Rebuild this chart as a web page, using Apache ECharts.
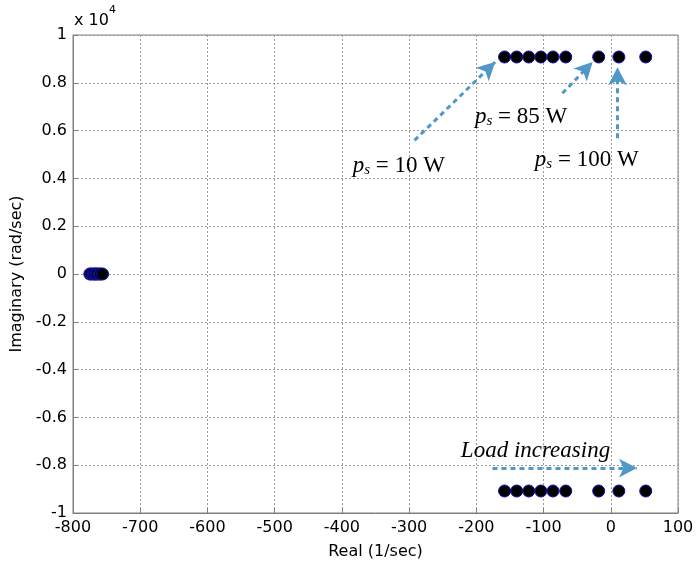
<!DOCTYPE html>
<html>
<head>
<meta charset="utf-8">
<script src="https://cdn.jsdelivr.net/npm/echarts@6/dist/echarts.min.js"></script>
<style>html,body{margin:0;padding:0;background:#fff}#c{width:699px;height:565px}</style>
</head>
<body>
<div id="c"></div>
<script>
// Data (real part in 1/sec, imaginary part in rad/sec)
const clusterReal = [-775, -773, -770, -768, -766, -764, -761, -759, -756];
const clusterImag = [0, 0, 0, 0, 0, 0, 0, 0, 0];
const upperReal = [-158, -140, -122, -104, -86, -67, -18, 12, 52];
const upperImag = [9080, 9080, 9080, 9080, 9080, 9080, 9080, 9080, 9080];
const lowerReal = [-158, -140, -122, -104, -86, -67, -18, 12, 52];
const lowerImag = [-9080, -9080, -9080, -9080, -9080, -9080, -9080, -9080, -9080];
const xTicks = [-800, -700, -600, -500, -400, -300, -200, -100, 0, 100];
const yTicks = [-10000, -8000, -6000, -4000, -2000, 0, 2000, 4000, 6000, 8000, 10000];
// annotation arrows [x1, y1, x2, y2] in data units
const arrows = [
  [-292, 5590, -172, 8870],
  [-72, 7560, -27, 8870],
  [10, 5680, 10, 8650],
  [-176, -8120, 39, -8120]
];
// annotation labels
const labelTexts = ['10 W', '85 W', '100 W'];
const labelPos = [[-384, 4590], [-202, 6640], [-113, 4840]];
const loadText = 'Load increasing';
const loadPos = [-223, -7400];

const zip = (a, b) => a.map((v, i) => [v, b[i]]);
const allPts = zip(clusterReal, clusterImag).concat(zip(upperReal, upperImag), zip(lowerReal, lowerImag));

const arrowColor = '#4f98c8';
const serif = '"Liberation Serif", "Times New Roman", serif';
const sans = '"DejaVu Sans", Arial, sans-serif';

const markPts = labelPos.map((p, i) => ({
  coord: p,
  symbolSize: 0,
  label: {
    show: true,
    position: 'right',
    distance: 0,
    formatter: '{p|p}{s|s}{n| = ' + labelTexts[i] + '}',
    rich: {
      p: {fontFamily: serif, fontStyle: 'italic', fontSize: 23, color: '#000', lineHeight: 26, verticalAlign: 'bottom'},
      s: {fontFamily: serif, fontStyle: 'italic', fontSize: 15, color: '#000', lineHeight: 8, verticalAlign: 'bottom'},
      n: {fontFamily: serif, fontSize: 23, color: '#000', lineHeight: 26, verticalAlign: 'bottom'}
    }
  }
}));
markPts.push({
  coord: loadPos,
  symbolSize: 0,
  label: {
    show: true, position: 'right', distance: 0,
    formatter: loadText,
    fontFamily: serif, fontStyle: 'italic', fontSize: 23, color: '#000'
  }
});

const chart = echarts.init(document.getElementById('c'), null, {renderer: 'canvas'});
chart.setOption({
  animation: false,
  backgroundColor: '#fff',
  grid: {left: 73, right: 21, top: 35, bottom: 52, containLabel: false, outerBoundsMode: 'none',
    show: true, borderColor: '#808080', borderWidth: 1, backgroundColor: 'transparent'},
  xAxis: {
    type: 'value', min: xTicks[0], max: xTicks[xTicks.length - 1], interval: 100,
    name: 'Real (1/sec)', nameLocation: 'middle', nameGap: 31,
    nameTextStyle: {fontFamily: sans, fontSize: 16, color: '#000'},
    axisLine: {show: true, onZero: false, lineStyle: {color: '#808080'}},
    axisTick: {show: true, inside: true, length: 5, lineStyle: {color: '#808080'}},
    axisLabel: {fontFamily: sans, fontSize: 16, color: '#000', margin: 7},
    splitLine: {show: true, lineStyle: {color: '#9a9a9a', type: [2, 2], width: 1}}
  },
  yAxis: {
    type: 'value', min: yTicks[0], max: yTicks[yTicks.length - 1], interval: 2000,
    name: 'Imaginary (rad/sec)', nameLocation: 'middle', nameGap: 46, nameRotate: 90,
    nameTextStyle: {fontFamily: sans, fontSize: 16, color: '#000'},
    axisLine: {show: true, onZero: false, lineStyle: {color: '#808080'}},
    axisTick: {show: true, inside: true, length: 5, lineStyle: {color: '#808080'}},
    axisLabel: {fontFamily: sans, fontSize: 16, color: '#000', margin: 6,
      formatter: v => String(Math.round(v / 1000) / 10)},
    splitLine: {show: true, lineStyle: {color: '#9a9a9a', type: [2, 2], width: 1}}
  },
  graphic: [{
    type: 'text', left: 74, top: 5,
    style: {
      text: '{a|x 10}{b|4}',
      rich: {
        a: {fontFamily: sans, fontSize: 16, fill: '#000', lineHeight: 24, verticalAlign: 'bottom'},
        b: {fontFamily: sans, fontSize: 11, fill: '#000', lineHeight: 12, verticalAlign: 'top'}
      }
    }
  }],
  series: [{
    type: 'scatter',
    data: allPts,
    symbol: 'circle',
    symbolSize: 12,
    itemStyle: {color: '#000', borderColor: '#1010b0', borderWidth: 1, opacity: 1},
    z: 3,
    markLine: {
      silent: true,
      symbol: ['none', 'arrow'],
      symbolSize: [14, 18],
      label: {show: false},
      lineStyle: {color: arrowColor, type: [5, 4], width: 3, opacity: 1},
      itemStyle: {color: arrowColor},
      data: arrows.map(a => [{coord: [a[0], a[1]]}, {coord: [a[2], a[3]]}])
    },
    markPoint: {
      silent: true,
      symbol: 'circle',
      itemStyle: {color: 'transparent'},
      data: markPts
    }
  }]
});
</script>
</body>
</html>
